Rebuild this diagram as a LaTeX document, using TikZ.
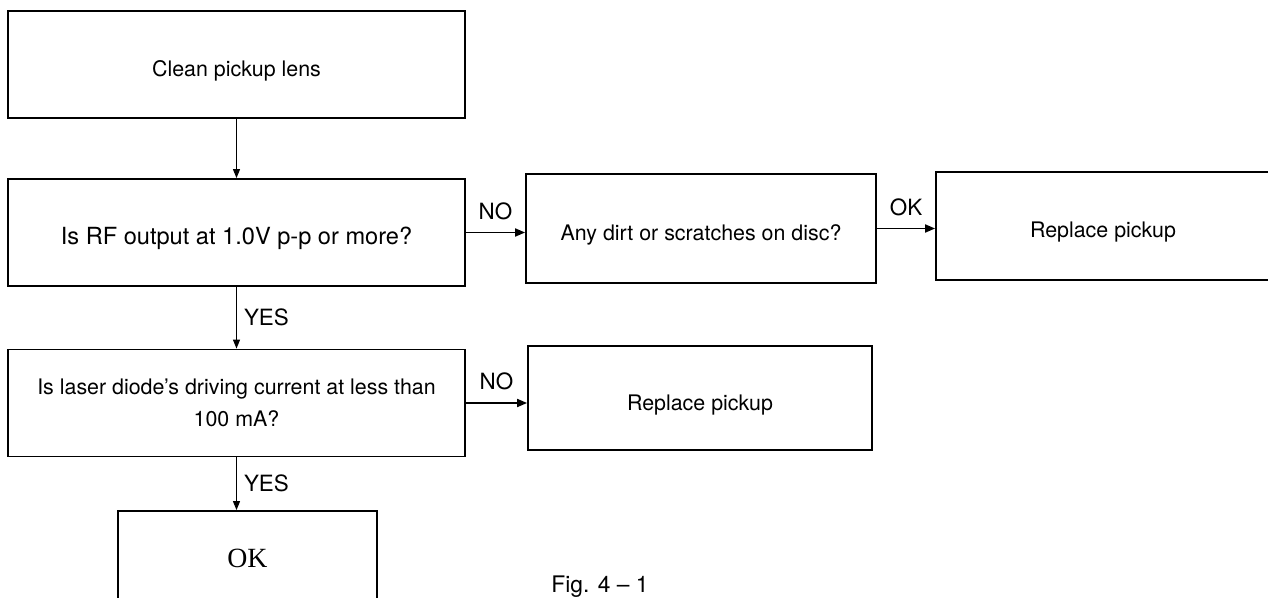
\documentclass[tikz,border=0pt]{standalone}
\usepackage{fontspec}
\setmainfont{TeX Gyre Heros}
\newfontfamily\okfont{Liberation Serif}
\usetikzlibrary{arrows.meta,calc}

\begin{document}
\begin{tikzpicture}[x=0.5pt,y=-0.5pt,
    box/.style={draw,line width=0.9pt,inner sep=0pt,align=center,
      font=\fontsize{10.7}{16}\selectfont},
    low/.style={text height=1.45em,text depth=.25em},
    thinarrow/.style={line width=0.5pt,-{Triangle[length=4.5pt,width=3.5pt]}},
    thickarrow/.style={line width=0.9pt,-{Triangle[length=5pt,width=4pt]}},
    answer/.style={inner sep=2pt,font=\fontsize{11.2}{13}\selectfont}]
        %Frame
        \path[use as bounding box] (0,0) rectangle (1268,598);
        \clip (0,0) rectangle (1268,598);
        %Boxes
        \node[box,low,minimum width=228.5pt,minimum height=53.5pt] (clean) at (236.5,64.5) {Clean pickup lens};
        \node[box,low,minimum width=228.5pt,minimum height=53.5pt,font=\fontsize{11.8}{14}\selectfont] (rfout) at (236.5,232.5) {Is RF output at 1.0V p-p or more?};
        \node[box,low,minimum width=175pt,minimum height=54.5pt] (dirt) at (701,228.5) {Any dirt or scratches on disc?};
        \node[box,low,minimum width=167pt,minimum height=54pt] (replA) at (1103,226) {Replace pickup};
        \node[box,minimum width=228.5pt,minimum height=53.5pt] (laser) at (236.5,403) {Is laser diode's driving current at less than\\100 mA?};
        \node[box,low,minimum width=172pt,minimum height=52pt] (replB) at (700,398) {Replace pickup};
        \node[box,minimum width=129.5pt,minimum height=47pt,font=\okfont\fontsize{13.9}{16}\selectfont] (okbox) at (247.5,558) {OK};
        \node[font=\fontsize{11.4}{13}\selectfont] (fig) at (600,587) {Fig. 4 -- 1};
        %Arrows
        \draw[thinarrow] (clean.south) -- (rfout.north);
        \draw[thickarrow] (rfout.east) -- (rfout.east -| dirt.west) node[answer,midway,above=4pt]{NO};
        \draw[thickarrow] (dirt.east) -- (dirt.east -| replA.west) node[answer,midway,above=4pt]{OK};
        \draw[thinarrow] (rfout.south) -- (laser.north) node[answer,midway,right=1.5pt]{YES};
        \draw[thickarrow] (laser.east) -- (laser.east -| replB.west) node[answer,midway,above=4pt]{NO};
        \draw[thinarrow] (laser.south) -- (laser.south |- okbox.north) node[answer,midway,right=1.5pt]{YES};
\end{tikzpicture}
\end{document}
